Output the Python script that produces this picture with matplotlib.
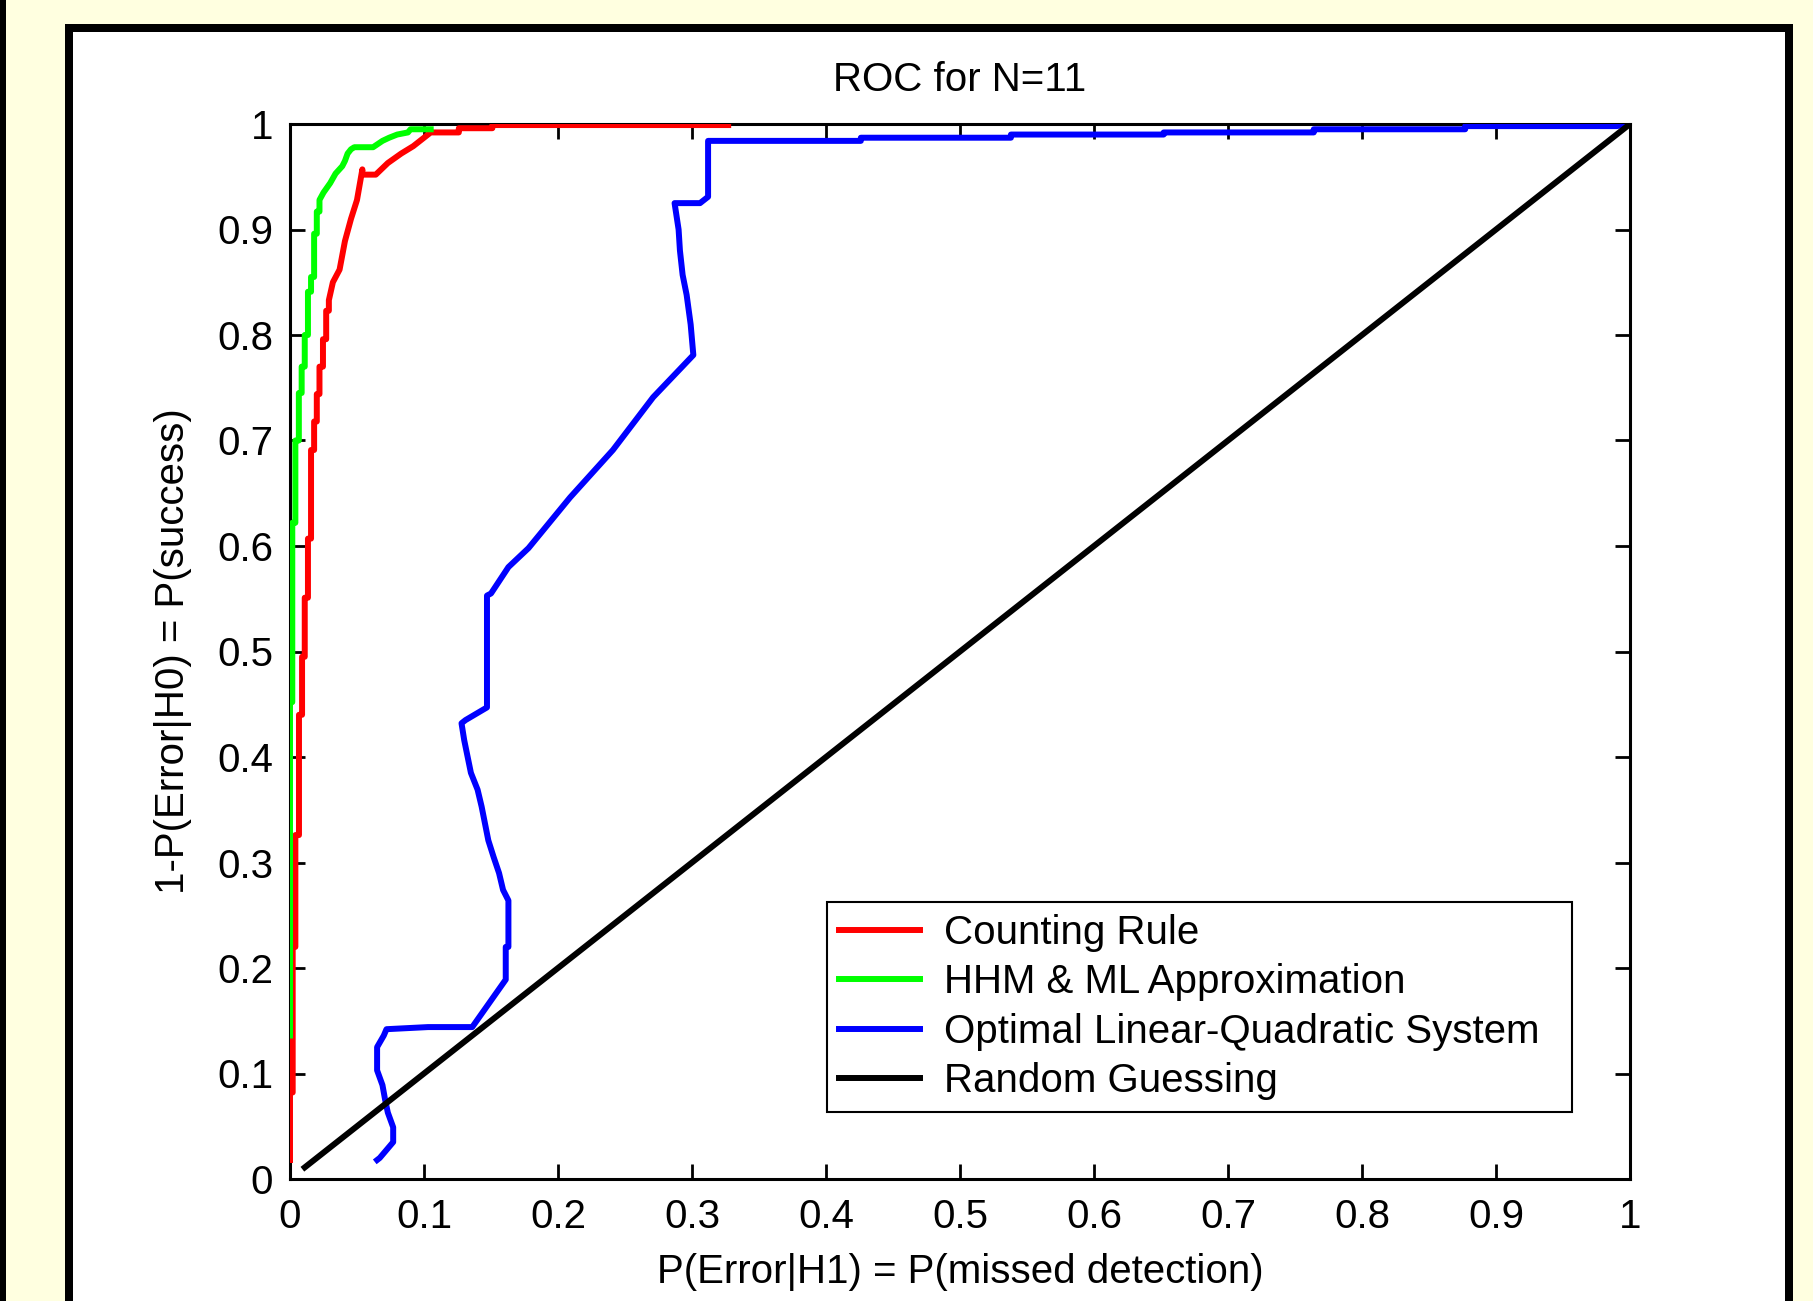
import matplotlib.pyplot as plt
from matplotlib.patches import Rectangle
import numpy as np

plt.rcParams['font.family'] = ['Liberation Sans', 'DejaVu Sans']

# ROC curves
red_x = [0, 0, 0.002, 0.002, 0.004, 0.004, 0.0067, 0.0067, 0.009, 0.009, 0.011, 0.011,
         0.0134, 0.0134, 0.0157, 0.0157, 0.018, 0.018, 0.020, 0.020, 0.022, 0.022,
         0.0246, 0.0246, 0.027, 0.027, 0.029, 0.029, 0.032, 0.037, 0.041, 0.0455, 0.05,
         0.054, 0.054, 0.064, 0.073, 0.083, 0.092, 0.1, 0.105, 0.126, 0.126, 0.151,
         0.151, 0.327]
red_y = [0.018, 0.082, 0.082, 0.22, 0.22, 0.326, 0.326, 0.44, 0.44, 0.495, 0.495, 0.551,
         0.551, 0.607, 0.607, 0.691, 0.691, 0.718, 0.718, 0.744, 0.744, 0.77,
         0.77, 0.796, 0.796, 0.823, 0.823, 0.833, 0.85, 0.862, 0.889, 0.91, 0.928,
         0.957, 0.952, 0.952, 0.963, 0.972, 0.979, 0.987, 0.992, 0.992, 0.996, 0.996,
         0.999, 0.999]

green_x = [0, 0, 0.0017, 0.0017, 0.004, 0.004, 0.0066, 0.0066, 0.0087, 0.0087, 0.011, 0.011,
           0.0134, 0.0134, 0.0157, 0.0157, 0.018, 0.018, 0.02, 0.02, 0.022, 0.022,
           0.025, 0.03, 0.034, 0.039, 0.041, 0.043, 0.0455, 0.048, 0.062, 0.069,
           0.074, 0.08, 0.088, 0.09, 0.105]
green_y = [0.136, 0.452, 0.452, 0.622, 0.622, 0.70, 0.70, 0.745, 0.745, 0.77, 0.77, 0.80,
           0.80, 0.841, 0.841, 0.855, 0.855, 0.896, 0.896, 0.917, 0.917, 0.928,
           0.935, 0.944, 0.953, 0.96, 0.965, 0.972, 0.976, 0.978, 0.978, 0.984,
           0.987, 0.99, 0.992, 0.995, 0.995]

blue_x = [0.065, 0.067, 0.077, 0.077, 0.073, 0.071, 0.069, 0.065, 0.065, 0.07, 0.072,
          0.103, 0.136, 0.161, 0.161, 0.163, 0.163, 0.159, 0.156, 0.152, 0.148, 0.143,
          0.14, 0.135, 0.13, 0.128, 0.131, 0.147, 0.147, 0.15, 0.163, 0.178, 0.209,
          0.241, 0.271, 0.301, 0.299, 0.296, 0.293, 0.291, 0.29, 0.287, 0.306, 0.312,
          0.312, 0.426, 0.426, 0.538, 0.538, 0.652, 0.652, 0.764, 0.764, 0.877, 0.877,
          0.99, 1.0]
blue_y = [0.018, 0.02, 0.035, 0.049, 0.063, 0.075, 0.089, 0.103, 0.125, 0.136, 0.142,
          0.144, 0.144, 0.189, 0.22, 0.22, 0.264, 0.274, 0.29, 0.305, 0.321, 0.353,
          0.369, 0.385, 0.416, 0.432, 0.435, 0.447, 0.553, 0.555, 0.58, 0.598, 0.646,
          0.691, 0.741, 0.781, 0.81, 0.838, 0.857, 0.88, 0.9, 0.925, 0.925, 0.931,
          0.984, 0.984, 0.987, 0.987, 0.99, 0.99, 0.992, 0.992, 0.995, 0.995, 0.998,
          0.998, 1.0]

black_x = [0.011, 0.25, 0.5, 0.75, 1.0]
black_y = [0.011, 0.25, 0.5, 0.75, 1.0]

labels = ["Counting Rule", "HHM & ML Approximation",
          "Optimal Linear-Quadratic System", "Random Guessing"]
ticks = np.arange(0, 1.01, 0.1)
tick_labels = ["0", "0.1", "0.2", "0.3", "0.4", "0.5", "0.6", "0.7", "0.8", "0.9", "1"]

W, H = 1813, 1301
fs = 29
fig = plt.figure(figsize=(W / 100, H / 100), dpi=100, facecolor="#FFFFE0")

# page decoration: black frame round a white panel, kept behind the axes
fig.patches.append(Rectangle((0, 0), 6 / W, 1, transform=fig.transFigure,
                             facecolor="black", edgecolor="none", zorder=-10))
fig.patches.append(Rectangle((65 / W, -0.02), (1793 - 65) / W, (H - 24) / H + 0.02,
                             transform=fig.transFigure, facecolor="black",
                             edgecolor="none", zorder=-10))
fig.patches.append(Rectangle((73 / W, -0.02), (1785 - 73) / W, (H - 32) / H + 0.02,
                             transform=fig.transFigure, facecolor="white",
                             edgecolor="none", zorder=-9))

ax = fig.add_axes([290 / W, 1 - 1179 / H, 1340 / W, 1055 / H])
ax.set_facecolor("white")

lw = 4.3
ax.plot(red_x, red_y, color="#FF0000", lw=lw, label=labels[0], zorder=3)
ax.plot(green_x, green_y, color="#00FF00", lw=lw, label=labels[1], zorder=3)
ax.plot(blue_x, blue_y, color="#0000FF", lw=lw, label=labels[2], zorder=3)
ax.plot(black_x, black_y, color="black", lw=lw, label=labels[3], zorder=3)

ax.set_xlim(0, 1)
ax.set_ylim(0, 1)
ax.set_xticks(ticks)
ax.set_yticks(ticks)
ax.set_xticklabels(tick_labels)
ax.set_yticklabels(tick_labels)
ax.tick_params(direction="in", length=11, width=2, top=True, right=True,
               labelsize=fs, pad=12)
ax.tick_params(axis="x", pad=14)
for s in ax.spines.values():
    s.set_linewidth(2.2)

ax.set_title("ROC for N=11", fontsize=fs, pad=24)
ax.set_xlabel("P(Error|H1) = P(missed detection)", fontsize=fs, labelpad=12)
ax.set_ylabel("1-P(Error|H0) = P(success)", fontsize=fs, labelpad=18)

leg = ax.legend(loc="lower left", bbox_to_anchor=(0.401, 0.0635, 0.556, 0.2035),
                mode="expand", fontsize=fs, handlelength=2.0, handletextpad=0.6,
                labelspacing=0.28, borderpad=0.3, borderaxespad=0,
                fancybox=False, framealpha=1)
leg.get_frame().set_edgecolor("black")
leg.get_frame().set_linewidth(1.5)

fig.savefig("out.png", dpi=100, facecolor=fig.get_facecolor())
